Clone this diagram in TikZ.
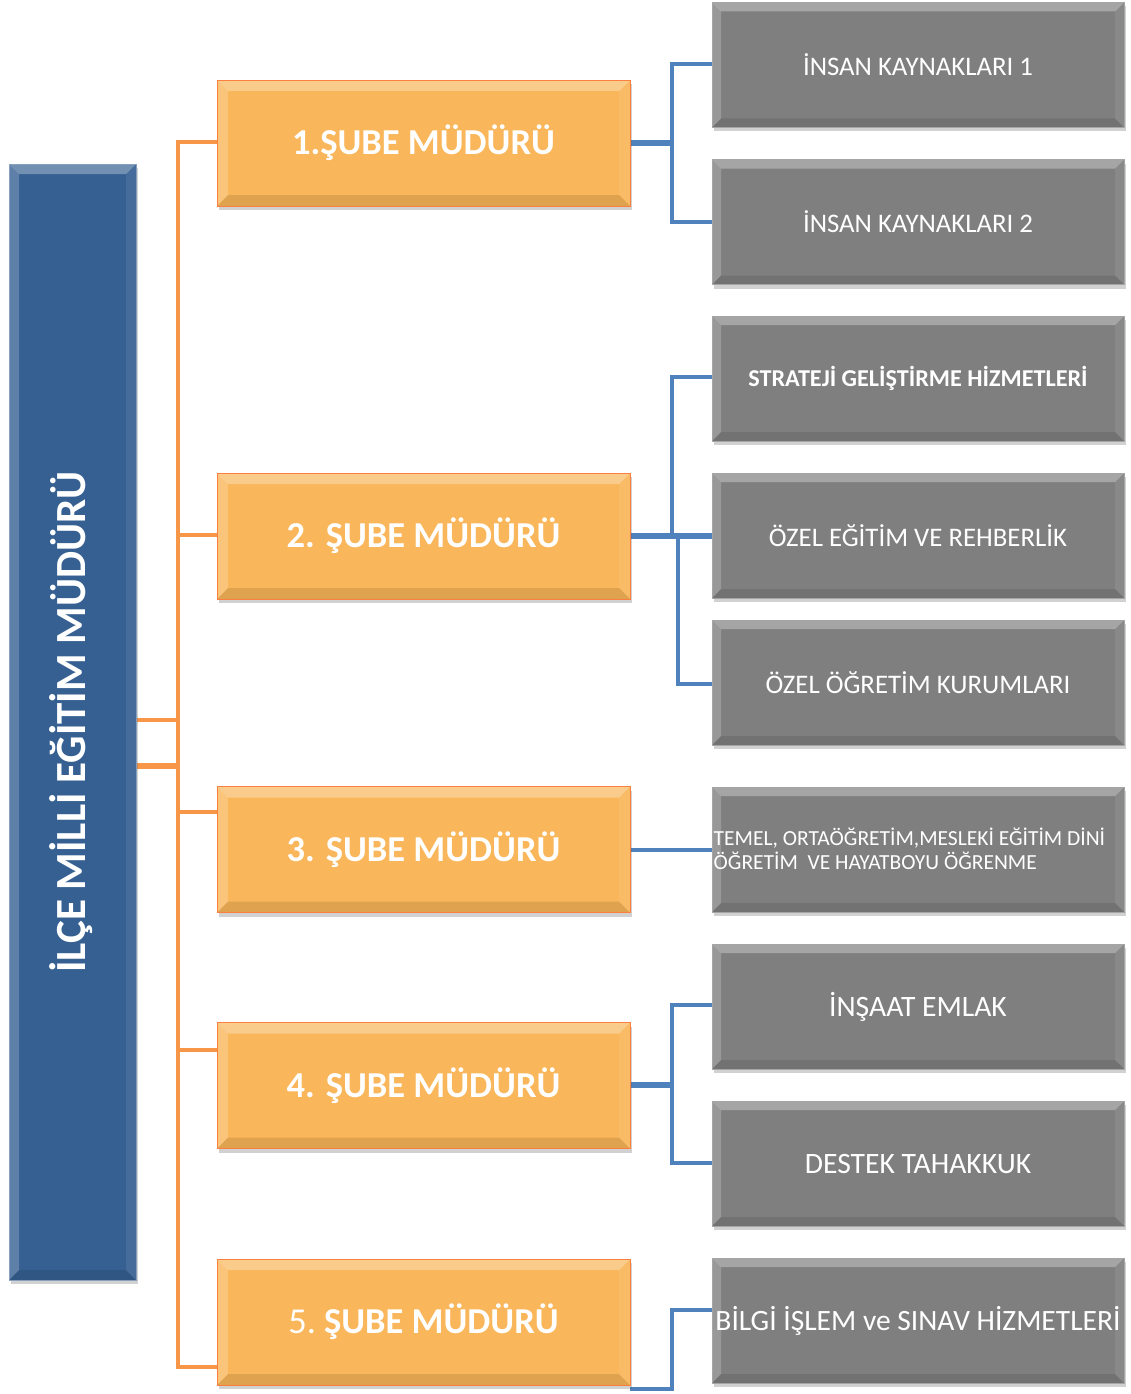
\documentclass[tikz,border=0pt]{standalone}
\usepackage{fontspec}
\setmainfont{Carlito}
\usetikzlibrary{shadows,calc}
\definecolor{bluebox}{RGB}{54,96,146}
\definecolor{orangebox}{RGB}{249,182,90}
\definecolor{graybox}{RGB}{127,127,127}
\definecolor{oline}{RGB}{247,150,70}
\definecolor{bline}{RGB}{79,129,189}
\pgfdeclarelayer{background}
\pgfsetlayers{background,main}
\tikzset{
  bevel/.style={path picture={
    \def\bb{path picture bounding box}
    \fill[white,opacity=0.3] (\bb.north west) -- (\bb.north east) -- ([xshift=-#1,yshift=-#1]\bb.north east) -- ([xshift=#1,yshift=-#1]\bb.north west) -- cycle;
    \fill[white,opacity=0.2] (\bb.north west) -- (\bb.south west) -- ([xshift=#1,yshift=#1]\bb.south west) -- ([xshift=#1,yshift=-#1]\bb.north west) -- cycle;
    \fill[black,opacity=0.1] (\bb.south west) -- (\bb.south east) -- ([xshift=-#1,yshift=#1]\bb.south east) -- ([xshift=#1,yshift=#1]\bb.south west) -- cycle;
    \fill[white,opacity=0.08] (\bb.north east) -- (\bb.south east) -- ([xshift=-#1,yshift=#1]\bb.south east) -- ([xshift=-#1,yshift=-#1]\bb.north east) -- cycle;
  }},
  basebox/.style={rectangle, inner sep=0pt, text=white, align=center,
    drop shadow={shadow xshift=2pt, shadow yshift=-4pt, opacity=0.3, fill=black!60}},
  bluenode/.style={basebox, fill=bluebox, draw=bluebox!60!white, line width=0.8pt,
    minimum width=127pt, minimum height=1116pt, bevel=10pt},
  orangenode/.style={basebox, fill=orangebox, draw=red!30!orangebox, line width=0.8pt,
    minimum width=413pt, minimum height=126pt, bevel=11pt,
    font=\fontsize{36.5}{40}\selectfont\bfseries},
  graynode/.style={basebox, fill=graybox, draw=graybox!70!white, line width=0.8pt,
    minimum width=412pt, minimum height=125pt, bevel=9pt,
    font=\fontsize{26.8}{30}\selectfont},
  oconn/.style={draw=oline, line width=4pt},
  oconnthick/.style={draw=oline, line width=6pt},
  bconn/.style={draw=bline, line width=4pt},
  bconnthick/.style={draw=bline, line width=6pt},
}
\begin{document}
\begin{tikzpicture}[x=1pt,y=-1pt]
\useasboundingbox (0,0) rectangle (1131,1394);

% left box
\node[bluenode] (ilce) at (72.5,722) {};
\node[rotate=90, text=white, font=\fontsize{43}{46}\selectfont\bfseries] (ilcet) at (71,722) {İLÇE MİLLİ EĞİTİM MÜDÜRÜ};

% orange boxes
\node[orangenode] (o1) at (423.5,143) {1.ŞUBE MÜDÜRÜ};
\node[orangenode] (o2) at (423.5,536) {2. ŞUBE MÜDÜRÜ};
\node[orangenode] (o3) at (423.5,849.5) {3. ŞUBE MÜDÜRÜ};
\node[orangenode] (o4) at (423.5,1085.5) {4. ŞUBE MÜDÜRÜ};
\node[orangenode] (o5) at (423.5,1322) {\mdseries 5.\hspace{0.22em}\bfseries ŞUBE MÜDÜRÜ};

% gray boxes
\node[graynode] (g1) at (918,65) {İNSAN KAYNAKLARI 1};
\node[graynode] (g2) at (918,222) {İNSAN KAYNAKLARI 2};
\node[graynode, font=\fontsize{24.2}{28}\selectfont\bfseries] (g3) at (918,378.5) {STRATEJİ GELİŞTİRME HİZMETLERİ};
\node[graynode] (g4) at (918,535.5) {ÖZEL EĞİTİM VE REHBERLİK};
\node[graynode] (g5) at (918,682.5) {ÖZEL ÖĞRETİM KURUMLARI};
\node[graynode] (g6) at (918,849.5) {};
\node[anchor=west, text=white, align=left, inner sep=0pt, font=\fontsize{21.5}{24}\selectfont] (g6t) at (713.5,849) {TEMEL, ORTAÖĞRETİM,MESLEKİ EĞİTİM DİNİ\\ÖĞRETİM\ \ VE HAYATBOYU ÖĞRENME};
\node[graynode, font=\fontsize{29.6}{32}\selectfont] (g7) at (918,1006.5) {İNŞAAT EMLAK};
\node[graynode, font=\fontsize{29.6}{32}\selectfont] (g8) at (918,1163.5) {DESTEK TAHAKKUK};
\node[graynode, font=\fontsize{29.5}{32}\selectfont] (g9) at (918,1320.5) {BİLGİ İŞLEM ve SINAV HİZMETLERİ};

% junction coordinates
\coordinate (ja) at (178,720);
\coordinate (jb) at (178,766);
\coordinate (t1) at (178,142);
\coordinate (t2) at (178,535);
\coordinate (t3) at (178,812);
\coordinate (t4) at (178,1050);
\coordinate (t5) at (178,1367);

\coordinate (b1) at (672,143);
\coordinate (b1a) at (672,64);
\coordinate (b1b) at (672,222);
\coordinate (b2) at (672,536);
\coordinate (b2a) at (672,377);
\coordinate (b2c) at (678,536);
\coordinate (b2d) at (678,684);
\coordinate (b4) at (672,1085);
\coordinate (b4a) at (672,1005);
\coordinate (b4b) at (672,1163);
\coordinate (b5) at (672,1389);
\coordinate (b5a) at (672,1310);

\begin{pgfonlayer}{background}
% orange connectors
\draw[oconn] (ilce.east |- ja) -- (ja);
\draw[oconnthick] (ilce.east |- jb) -- (jb);
\draw[oconn] (o1.west |- t1) -- (t1) -- (t5) -- (o5.west |- t5);
\draw[oconn] (t2) -- (o2.west |- t2);
\draw[oconn] (t3) -- (o3.west |- t3);
\draw[oconn] (t4) -- (o4.west |- t4);
% blue connectors
\draw[bconnthick] (o1.east |- b1) -- (b1);
\draw[bconn] (g1.west |- b1a) -- (b1a) -- (b1b) -- (g2.west |- b1b);
\draw[bconnthick] (o2.east |- b2) -- (g4.west |- b2);
\draw[bconn] (g3.west |- b2a) -- (b2a) -- (b2);
\draw[bconn] (b2c) -- (b2d) -- (g5.west |- b2d);
\draw[bconn] (o3.east) -- (g6.west);
\draw[bconnthick] (o4.east |- b4) -- (b4);
\draw[bconn] (g7.west |- b4a) -- (b4a) -- (b4b) -- (g8.west |- b4b);
\draw[bconn] (o5.east |- b5) -- (b5) -- (b5a) -- (g9.west |- b5a);
\end{pgfonlayer}
\end{tikzpicture}
\end{document}
